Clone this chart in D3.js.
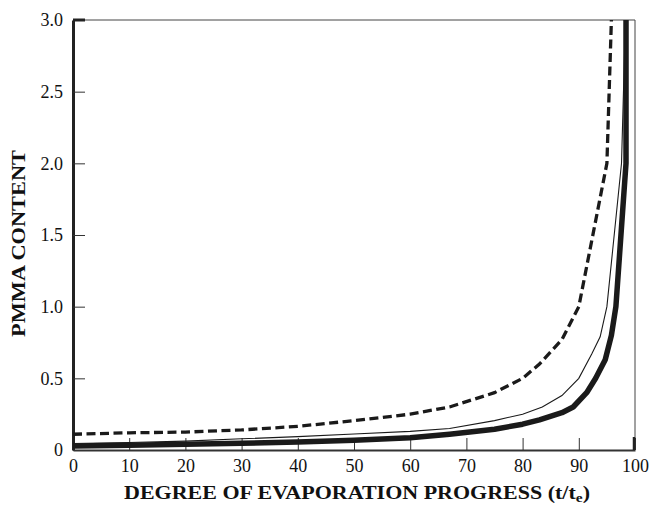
<!DOCTYPE html>
<html>
<head>
<meta charset="utf-8">
<script src="https://cdn.jsdelivr.net/npm/d3@7"></script>
<style>
  html, body { margin: 0; padding: 0; background: #fff; }
  svg { display: block; }
  svg text { font-family: "Liberation Serif", "Times New Roman", serif; fill: #111; }
</style>
</head>
<body>
<svg id="chart" width="649" height="506"></svg>
<script>
// Evaporation progress (t/te, %) vs PMMA content for three cases
const xTicks = [0, 10, 20, 30, 40, 50, 60, 70, 80, 90, 100];
const yTicks = [0, 0.5, 1.0, 1.5, 2.0, 2.5, 3.0];
const yTickLabels = ["0", "0.5", "1.0", "1.5", "2.0", "2.5", "3.0"];

const dashedX = [0, 10, 20, 30, 40, 50, 60, 67, 75, 80, 83, 87, 90, 95, 95.8];
const dashedY = [0.11, 0.12, 0.125, 0.14, 0.165, 0.205, 0.25, 0.30, 0.40, 0.5, 0.6, 0.77, 1.0, 2.0, 3.0];

const thinX = [0, 10, 20, 30, 40, 50, 60, 67, 75, 80, 83.5, 87, 90, 92.3, 93.8, 95, 97.6, 98.3];
const thinY = [0.045, 0.052, 0.062, 0.078, 0.093, 0.112, 0.13, 0.15, 0.205, 0.25, 0.30, 0.38, 0.5, 0.67, 0.79, 1.0, 2.0, 3.0];

const thickX = [0, 10, 20, 30, 40, 50, 60, 67, 75, 80, 83, 87, 89, 91.4, 93, 94.7, 95.8, 96.6, 98.4, 98.4];
const thickY = [0.028, 0.034, 0.04, 0.047, 0.056, 0.068, 0.085, 0.11, 0.145, 0.18, 0.21, 0.26, 0.30, 0.40, 0.5, 0.63, 0.8, 1.0, 2.0, 3.0];

const svg = d3.select("#chart");
const plotLeft = 73, plotRight = 635, plotTop = 20, plotBottom = 450;

const x = d3.scaleLinear().domain([0, 100]).range([plotLeft, plotRight]);
const y = d3.scaleLinear().domain([0, 3]).range([plotBottom, plotTop]);

const zip = (xs, ys) => xs.map((v, i) => [v, ys[i]]);
const line = d3.line().x(d => x(d[0])).y(d => y(d[1])).curve(d3.curveLinear);

// frame: thin top and right edges
svg.append("line").attr("x1", plotLeft).attr("x2", plotRight).attr("y1", plotTop).attr("y2", plotTop)
  .attr("stroke", "#444").attr("stroke-width", 1);
svg.append("line").attr("x1", plotRight).attr("x2", plotRight).attr("y1", plotTop).attr("y2", plotBottom)
  .attr("stroke", "#444").attr("stroke-width", 1);

// bottom axis with inward ticks
const xAxis = d3.axisBottom(x).tickValues(xTicks).tickSizeInner(-12).tickSizeOuter(0).tickPadding(9)
  .tickFormat(d3.format("d"));
const gx = svg.append("g").attr("transform", `translate(0,${plotBottom})`).call(xAxis)
  .attr("font-family", null).attr("font-size", null);
gx.select(".domain").attr("stroke", "#333").attr("stroke-width", 2);
gx.selectAll(".tick line").attr("stroke", "#333").attr("stroke-width", 1);
gx.selectAll(".tick text").attr("font-size", 18).attr("fill", "#111");

// left axis with inward ticks
const yAxis = d3.axisLeft(y).tickValues(yTicks).tickSizeInner(-12).tickSizeOuter(0).tickPadding(10)
  .tickFormat((d, i) => yTickLabels[i]);
const gy = svg.append("g").attr("transform", `translate(${plotLeft},0)`).call(yAxis)
  .attr("font-family", null).attr("font-size", null);
gy.select(".domain").attr("stroke", "#222").attr("stroke-width", 3);
gy.selectAll(".tick line").attr("stroke", "#333").attr("stroke-width", 1);
gy.selectAll(".tick text").attr("font-size", 18).attr("fill", "#111");

// heavier corner ticks at 3.0 and 100
svg.append("line").attr("x1", plotLeft).attr("x2", plotLeft + 12).attr("y1", y(3)).attr("y2", y(3))
  .attr("stroke", "#222").attr("stroke-width", 3);
svg.append("line").attr("x1", x(100) - 1).attr("x2", x(100) - 1).attr("y1", plotBottom).attr("y2", plotBottom - 13)
  .attr("stroke", "#222").attr("stroke-width", 2.5);

// curves
svg.append("path").datum(zip(dashedX, dashedY)).attr("d", line)
  .attr("fill", "none").attr("stroke", "#1a1a1a").attr("stroke-width", 3.3)
  .attr("stroke-dasharray", "9,4.5");
svg.append("path").datum(zip(thinX, thinY)).attr("d", line)
  .attr("fill", "none").attr("stroke", "#1a1a1a").attr("stroke-width", 1.1);
svg.append("path").datum(zip(thickX, thickY)).attr("d", line)
  .attr("fill", "none").attr("stroke", "#1a1a1a").attr("stroke-width", 5.5)
  .attr("stroke-linejoin", "round");

// axis titles
const xt = svg.append("text").attr("x", 124).attr("y", 499)
  .attr("font-size", 18.5).attr("font-weight", "bold")
  .attr("textLength", 466).attr("lengthAdjust", "spacingAndGlyphs");
xt.append("tspan").text("DEGREE OF EVAPORATION PROGRESS (t/t");
xt.append("tspan").attr("font-size", 13).attr("dy", 3).text("e");
xt.append("tspan").attr("dy", -3).text(")");

svg.append("text").attr("transform", `translate(25,337) rotate(-90)`)
  .attr("font-size", 18.5).attr("font-weight", "bold")
  .attr("textLength", 187).attr("lengthAdjust", "spacingAndGlyphs")
  .text("PMMA CONTENT");
</script>
</body>
</html>
